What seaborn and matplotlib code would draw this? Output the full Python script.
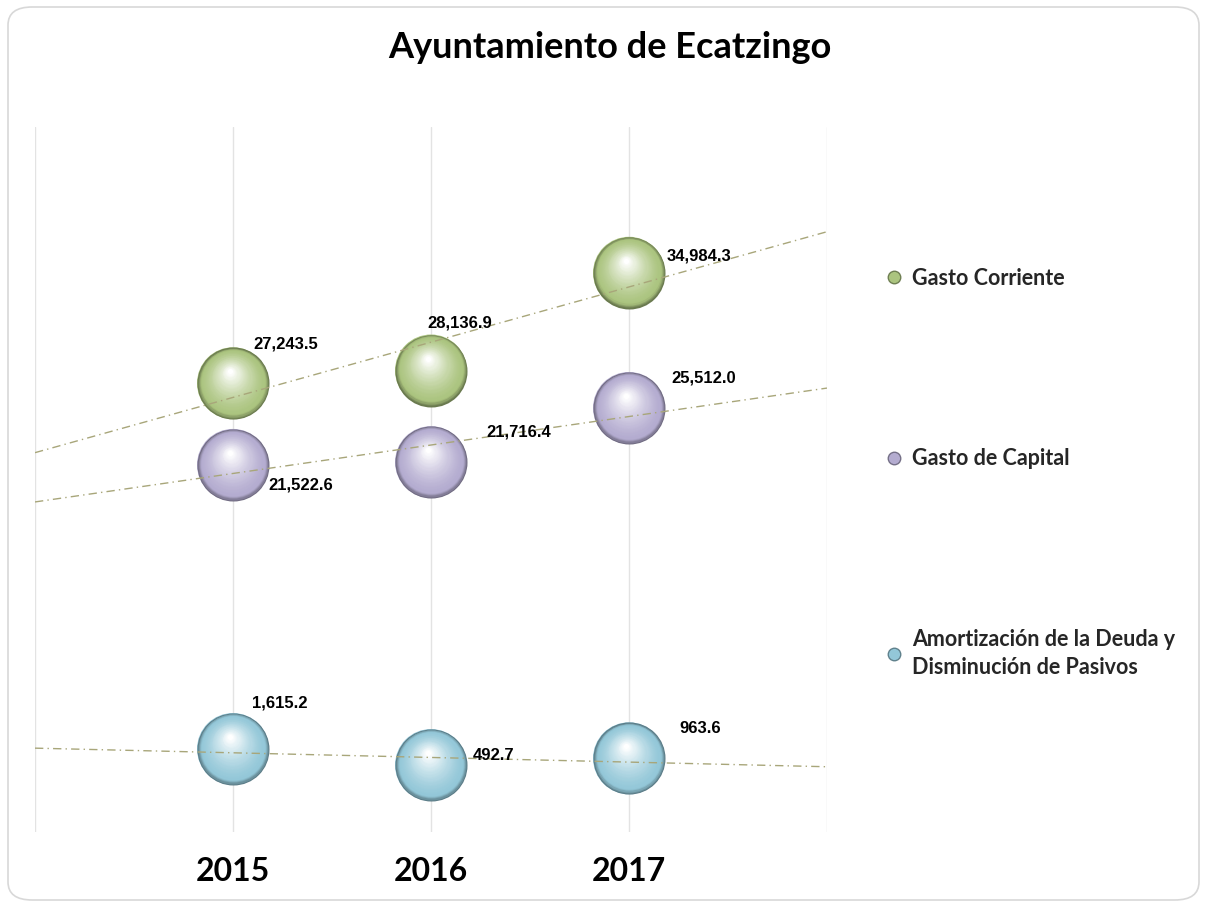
import numpy as np
import pandas as pd
import matplotlib.pyplot as plt
import seaborn as sns
from matplotlib.transforms import ScaledTranslation
from matplotlib.colors import to_rgb
from matplotlib.patches import FancyBboxPatch
from matplotlib.lines import Line2D

# %% data
years = [2015, 2016, 2017]
gasto_corriente = [27243.5, 28136.9, 34984.3]
gasto_capital = [21522.6, 21716.4, 25512.0]
amortizacion = [1615.2, 492.7, 963.6]
series_names = ["Gasto Corriente", "Gasto de Capital",
                "Amortización de la Deuda y\nDisminución de Pasivos"]

df = pd.DataFrame({
    "year": years * 3,
    "value": gasto_corriente + gasto_capital + amortizacion,
    "serie": np.repeat(series_names, 3),
})

# %% style
colors = ["#abc47f", "#b4acd0", "#93c7d8"]
# label offsets from sphere center (pixels)
label_offsets = [[(20, 39), (-4, 48), (38, 17)],
                 [(35, -20), (55, 30), (42, 30)],
                 [(19, 46), (42, 10), (50, 30)]]

DPI = 100
sns.set_style("white")
fig = plt.figure(figsize=(12.07, 9.05), dpi=DPI)
ax = fig.add_axes([35 / 1207, 1 - 832 / 905, 792 / 1207, 705 / 905])

# rounded frame around the chart
fig.patches.append(FancyBboxPatch((8 / 1207, 5 / 905), 1191 / 1207, 893 / 905,
                                  boxstyle="round,pad=0,rounding_size=0.02",
                                  transform=fig.transFigure, fc="white",
                                  ec="#d8d8d8", lw=1.2, zorder=-10))

# base layer with seaborn
sns.scatterplot(data=df, x="year", y="value", hue="serie", palette=colors,
                s=(72 * 0.72) ** 2, linewidth=0, legend=False, ax=ax, zorder=3)


def sphere(ax, xs, ys, color, d=72, n=36):
    base = np.array(to_rgb(color))
    dark = base * 0.62
    hx, hy = -3, 12
    for k in range(n):
        t = k / (n - 1)
        dk = d * (1 - 0.93 * t)
        if t < 0.1:
            c = dark + (base - dark) * (t / 0.1)
        else:
            c = base + (1 - base) * ((t - 0.1) / 0.9) ** 1.4
        tr = ax.transData + ScaledTranslation(hx * t / DPI, hy * t / DPI,
                                              fig.dpi_scale_trans)
        ax.scatter(xs, ys, s=(dk * 0.72) ** 2, color=np.clip(c, 0, 1),
                   transform=tr, lw=0, zorder=3)


all_series = [gasto_corriente, gasto_capital, amortizacion]
xfit = np.array([2014, 2018])
for vals, col, offs in zip(all_series, colors, label_offsets):
    sphere(ax, years, vals, col)
    # linear trend line
    m, b = np.polyfit(years, vals, 1)
    ax.plot(xfit, m * xfit + b, ls=(0, (6, 3, 1, 3)), color="#a8a67a",
            lw=1, zorder=4)
    for x, v, o in zip(years, vals, offs):
        ax.annotate(f"{v:,.1f}", xy=(x, v), xytext=o, textcoords="offset pixels",
                    ha="left", va="center", fontsize=12, fontweight="bold",
                    family="Liberation Sans", color="black", zorder=5)

ax.set_xlim(2014, 2018)
ax.set_ylim(-4200, 45200)
ax.set_xticks([2014, 2015, 2016, 2017, 2018])
ax.set_xticklabels(["", "2015", "2016", "2017", ""], fontsize=23,
                   fontweight="bold", family="Lato", color="black")
ax.tick_params(axis="x", length=0, pad=18)
ax.set_yticks([])
ax.set_xlabel("")
ax.set_ylabel("")
ax.grid(axis="x", color="#e3e3e3", lw=1)
for s in ax.spines.values():
    s.set_visible(False)

fig.text(610 / 1207, 1 - 47 / 905, "Ayuntamiento de Ecatzingo", ha="center",
         va="center", fontsize=26, fontweight="bold", family="Lato",
         color="black")

handles = [Line2D([], [], ls="", marker="o", markersize=9, markerfacecolor=c,
                  markeredgecolor=np.array(to_rgb(c)) * 0.65) for c in colors]
leg = fig.legend(handles, series_names, loc="upper left",
                 bbox_to_anchor=(888 / 1207, 1 - 268 / 905), frameon=False,
                 prop={"family": "Lato", "weight": "bold", "size": 15.5},
                 handlelength=0.6, handletextpad=0.5, labelspacing=7.4,
                 borderpad=0, borderaxespad=0)
for t in leg.get_texts():
    t.set_linespacing(1.45)

fig.savefig("out.png", dpi=DPI)
